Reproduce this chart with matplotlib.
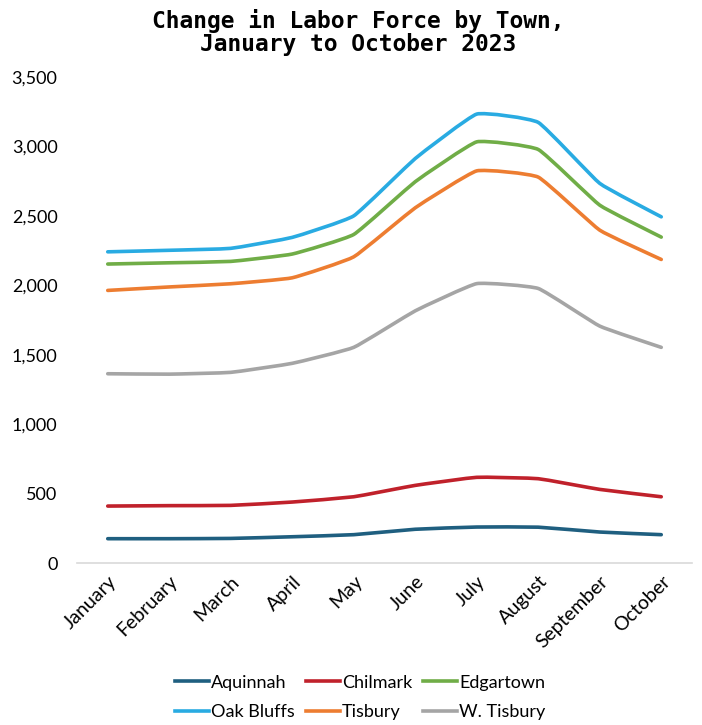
import matplotlib
matplotlib.use("Agg")
import matplotlib.pyplot as plt
from matplotlib.path import Path
from matplotlib.patches import PathPatch
from matplotlib.lines import Line2D
import numpy as np

months = ["January", "February", "March", "April", "May", "June",
          "July", "August", "September", "October"]

aquinnah = [175, 175, 177, 189, 204, 243, 259, 258, 223, 204]
chilmark = [410, 413, 415, 439, 477, 559, 617, 607, 530, 477]
edgartown = [2153, 2162, 2172, 2225, 2366, 2746, 3033, 2978, 2577, 2347]
oak_bluffs = [2241, 2252, 2266, 2345, 2500, 2913, 3233, 3173, 2734, 2493]
tisbury = [1963, 1988, 2011, 2054, 2205, 2558, 2824, 2779, 2397, 2186]
w_tisbury = [1363, 1360, 1373, 1438, 1553, 1816, 2012, 1977, 1706, 1553]

series = [
    ("Aquinnah", aquinnah, "#1F5F80"),
    ("Chilmark", chilmark, "#C0212B"),
    ("Edgartown", edgartown, "#70AD47"),
    ("Oak Bluffs", oak_bluffs, "#29ABE2"),
    ("Tisbury", tisbury, "#ED7D31"),
    ("W. Tisbury", w_tisbury, "#A5A5A5"),
]

yticks = [0, 500, 1000, 1500, 2000, 2500, 3000, 3500]

fig = plt.figure(figsize=(7.02, 7.25), dpi=100)
ax = fig.add_axes([77/702, 1-563/725, (692-77)/702, (563-77)/725])


def smooth_path(xs, ys, t=0.06):
    xs = np.asarray(xs, float)
    ys = np.asarray(ys, float)
    n = len(xs)
    verts = [(xs[0], ys[0])]
    codes = [Path.MOVETO]
    for i in range(n - 1):
        p0 = (xs[max(i-1, 0)], ys[max(i-1, 0)])
        p1 = (xs[i], ys[i])
        p2 = (xs[i+1], ys[i+1])
        p3 = (xs[min(i+2, n-1)], ys[min(i+2, n-1)])
        c1 = (p1[0] + (p2[0]-p0[0])*t, p1[1] + (p2[1]-p0[1])*t)
        c2 = (p2[0] - (p3[0]-p1[0])*t, p2[1] - (p3[1]-p1[1])*t)
        verts += [c1, c2, p2]
        codes += [Path.CURVE4]*3
    return Path(verts, codes)


x = np.arange(len(months))
handles = {}
for name, vals, color in series:
    patch = PathPatch(smooth_path(x, vals), fill=False, edgecolor=color,
                      lw=2.6, capstyle="round", joinstyle="round")
    ax.add_patch(patch)
    handles[name] = Line2D([], [], color=color, lw=2.6)

ax.set_xlim(-0.5, len(months) - 0.5)
ax.set_ylim(0, 3500)
ax.set_yticks(yticks)
ax.set_yticklabels([f"{v:,}" for v in yticks], fontsize=13, family="Lato")
ax.set_xticks(x)
ax.set_xticklabels(months, rotation=45, ha="right", va="top",
                   rotation_mode="anchor", fontsize=14, family="Lato")
ax.tick_params(axis="both", length=0)
ax.tick_params(axis="y", pad=14)
ax.tick_params(axis="x", pad=7)
for s in ["top", "right", "left"]:
    ax.spines[s].set_visible(False)
ax.spines["bottom"].set_color("#D9D9D9")
ax.spines["bottom"].set_linewidth(1.2)

fig.text(0.51, 0.988, "Change in Labor Force by Town,\nJanuary to October 2023",
         ha="center", va="top", fontsize=16.5, fontweight="bold",
         family="DejaVu Sans Mono", linespacing=1.0)

order = ["Aquinnah", "Oak Bluffs", "Chilmark", "Tisbury", "Edgartown", "W. Tisbury"]
fig.legend([handles[n] for n in order], order, ncol=3, loc="center",
           bbox_to_anchor=(0.513, 0.038), frameon=False,
           prop={"family": "Lato", "size": 13}, handlelength=1.9,
           handletextpad=0.1, columnspacing=0.6, labelspacing=0.75)

fig.savefig("out.png", dpi=100)
